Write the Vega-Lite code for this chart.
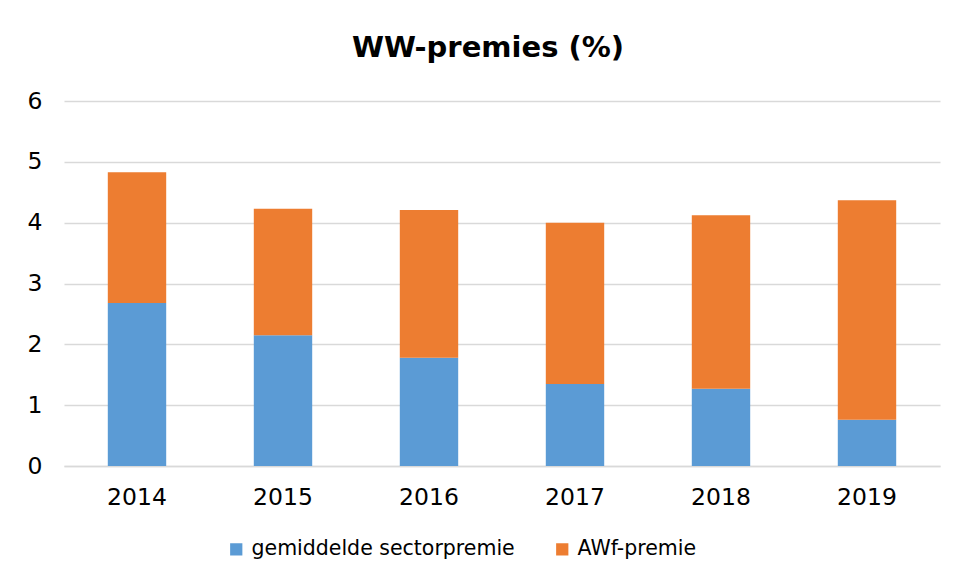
{
  "$schema": "https://vega.github.io/schema/vega-lite/v6.json",
  "autosize": "none",
  "width": 876,
  "height": 365,
  "padding": {"left": 64, "top": 101, "right": 17, "bottom": 117},
  "background": "white",
  "config": {
    "font": "DejaVu Sans",
    "view": {"stroke": null}
  },
  "title": {
    "text": "WW-premies (%)",
    "fontSize": 29,
    "fontWeight": "bold",
    "color": "#000000",
    "anchor": "middle",
    "baseline": "alphabetic",
    "offset": 3,
    "dx": -14
  },
  "data": {
    "values": [
      {"jaar": "2014", "reeks": "gemiddelde sectorpremie", "premie": 2.68},
      {"jaar": "2014", "reeks": "AWf-premie", "premie": 2.15},
      {"jaar": "2015", "reeks": "gemiddelde sectorpremie", "premie": 2.15},
      {"jaar": "2015", "reeks": "AWf-premie", "premie": 2.08},
      {"jaar": "2016", "reeks": "gemiddelde sectorpremie", "premie": 1.78},
      {"jaar": "2016", "reeks": "AWf-premie", "premie": 2.43},
      {"jaar": "2017", "reeks": "gemiddelde sectorpremie", "premie": 1.35},
      {"jaar": "2017", "reeks": "AWf-premie", "premie": 2.65},
      {"jaar": "2018", "reeks": "gemiddelde sectorpremie", "premie": 1.27},
      {"jaar": "2018", "reeks": "AWf-premie", "premie": 2.85},
      {"jaar": "2019", "reeks": "gemiddelde sectorpremie", "premie": 0.76},
      {"jaar": "2019", "reeks": "AWf-premie", "premie": 3.61}
    ]
  },
  "mark": {"type": "bar"},
  "encoding": {
    "x": {
      "field": "jaar",
      "type": "nominal",
      "title": null,
      "scale": {"paddingInner": 0.6, "paddingOuter": 0.3},
      "axis": {
        "labelAngle": 0,
        "labelFontSize": 23.5,
        "labelColor": "#000000",
        "labelPadding": 19,
        "ticks": false,
        "domainColor": "#d9d9d9",
        "domainWidth": 1.5
      }
    },
    "y": {
      "field": "premie",
      "type": "quantitative",
      "stack": "zero",
      "title": null,
      "scale": {"domain": [0, 6]},
      "axis": {
        "values": [0, 1, 2, 3, 4, 5, 6],
        "labelFontSize": 23.5,
        "labelColor": "#000000",
        "labelPadding": 22,
        "ticks": false,
        "domain": false,
        "gridColor": "#d9d9d9",
        "gridWidth": 1.5
      }
    },
    "color": {
      "field": "reeks",
      "type": "nominal",
      "sort": ["gemiddelde sectorpremie", "AWf-premie"],
      "scale": {
        "domain": ["gemiddelde sectorpremie", "AWf-premie"],
        "range": ["#5b9bd5", "#ed7d31"]
      },
      "legend": {
        "title": null,
        "orient": "none",
        "legendX": 162,
        "legendY": 438,
        "direction": "horizontal",
        "symbolType": "square",
        "symbolSize": 150,
        "symbolStrokeWidth": 0,
        "labelFontSize": 20.5,
        "labelLimit": 500,
        "labelColor": "#000000",
        "labelOffset": 5,
        "columnPadding": 37
      }
    },
    "order": {"field": "reeks", "sort": "descending"}
  }
}
